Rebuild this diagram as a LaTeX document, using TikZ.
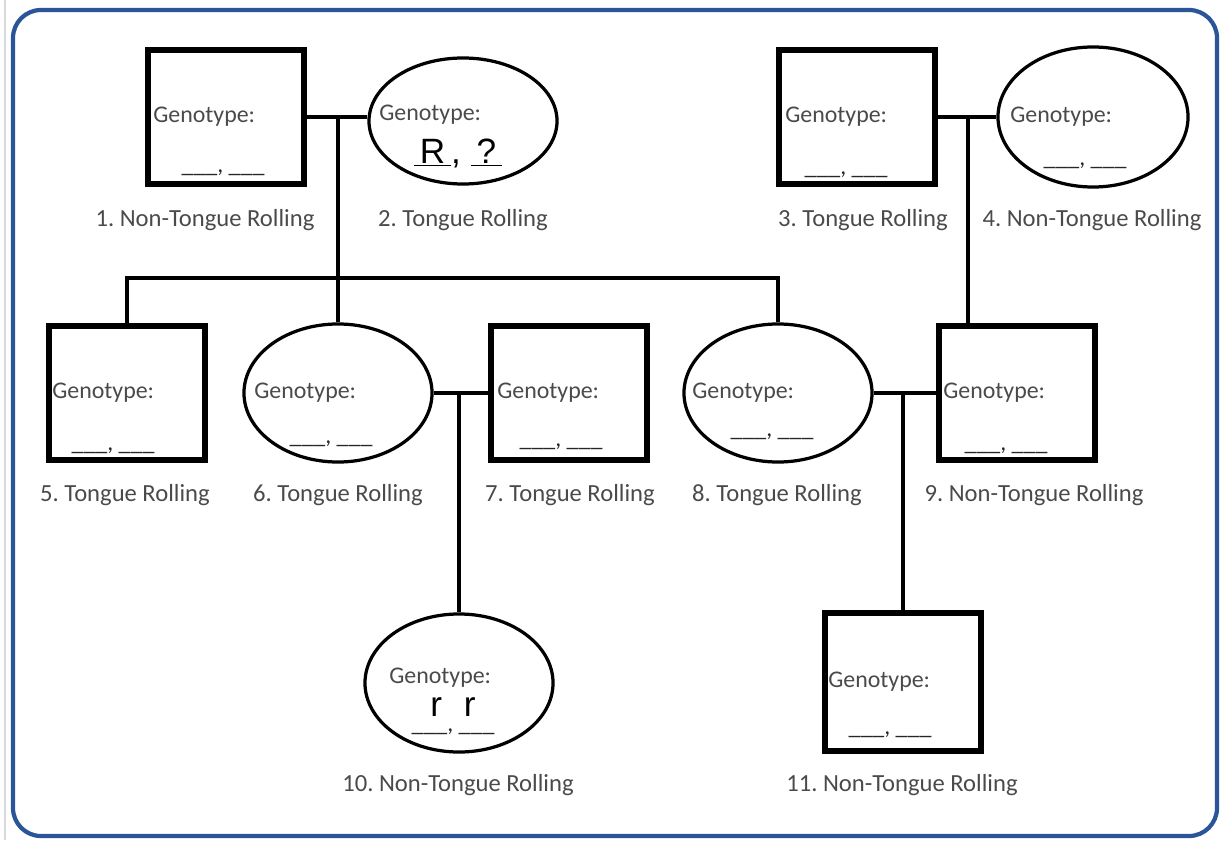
\documentclass[tikz,border=0pt]{standalone}
\usepackage{fontspec}
\setmainfont{Carlito}
\newfontfamily\allelefont{Liberation Sans}
\usetikzlibrary{shapes.geometric}

\definecolor{framecolor}{HTML}{2A5598}
\definecolor{textgray}{HTML}{4A4A4A}
\newcommand{\blanks}{\_\_\_, \_\_\_}

\begin{document}
\begin{tikzpicture}[x=0.025cm, y=-0.025cm]
        \tikzstyle{male}=[draw=black, line width=4pt, minimum width=3.9cm, minimum height=3.35cm, inner sep=0pt]
        \tikzstyle{female}=[draw=black, ellipse, line width=2.3pt, minimum width=4.7cm, minimum height=3.45cm, inner sep=0pt]
        \tikzstyle{link}=[line width=2.8pt]
        \tikzstyle{geno}=[anchor=west, inner sep=0pt, text=textgray, font=\fontsize{17}{20}\selectfont]
        \tikzstyle{blank}=[anchor=base, inner sep=0pt, text=black!85, font=\fontsize{17}{20}\selectfont]
        \tikzstyle{allele}=[anchor=base, inner sep=0pt, font=\allelefont\fontsize{25}{28}\selectfont]
        \tikzstyle{caption}=[inner sep=0pt, text=textgray, font=\frenchspacing\fontsize{17.5}{20}\selectfont]

        \useasboundingbox (0,0) rectangle (1220,840);
        \draw[gray!30, line width=1pt] (5,0) -- (5,840);
        \draw[framecolor, line width=3pt, rounded corners=0.7cm] (13,10) rectangle (1217,836);

        % parents
        \node (p1) at (226,117)[male]{};
        \node (p2) at (463,121)[female, minimum height=3.15cm]{};
        \node (p3) at (857,117)[male]{};
        \node (p4) at (1093,117)[female, minimum width=4.75cm, minimum height=3.5cm]{};

        % children
        \node (p5) at (127,393)[male]{};
        \node (p6) at (338,393)[female]{};
        \node (p7) at (569,393)[male]{};
        \node (p8) at (778,393)[female]{};
        \node (p9) at (1017,393)[male]{};

        % grandchildren
        \node (p10) at (459,683)[female]{};
        \node (p11) at (903,682)[male, minimum height=3.45cm]{};

        \coordinate (c12) at (338,117);
        \coordinate (c34) at (968,117);
        \coordinate (c67) at (459,393);
        \coordinate (c89) at (903,393);
        \coordinate (s5) at (127,278);
        \coordinate (s8) at (778,278);

        \draw[link] (p1.east) -- (p1.east -| p2.west);
        \draw[link] (c12) -- (p6.north);
        \draw[link] (p5.north) -- (s5) -- (s8) -- (p8.north);
        \draw[link] (p3.east) -- (p4.west);
        \draw[link] (c34) -- (c34 |- p9.north);
        \draw[link] (p6.east) -- (p7.west);
        \draw[link] (c67) -- (p10.north);
        \draw[link] (p8.east) -- (p9.west);
        \draw[link] (c89) -- (p11.north);

        % genotype text
        \node (g1) at (153,117)[geno]{Genotype:};
        \node (g2) at (379,115)[geno]{Genotype:};
        \node (g3) at (785,117)[geno]{Genotype:};
        \node (g4) at (1010,117)[geno]{Genotype:};
        \node (g5) at (52,393)[geno]{Genotype:};
        \node (g6) at (254,393)[geno]{Genotype:};
        \node (g7) at (497,393)[geno]{Genotype:};
        \node (g8) at (692,393)[geno]{Genotype:};
        \node (g9) at (943,393)[geno]{Genotype:};
        \node (g10) at (389,678)[geno]{Genotype:};
        \node (g11) at (828,682)[geno]{Genotype:};

        % blanks
        \node (b1) at (223,173)[blank]{\blanks};
        \node (b2) at (458,163)[allele]{\underline{\,R\,}, \underline{\,?\,}};
        \node (b3) at (846,174)[blank]{\blanks};
        \node (b4) at (1085,165)[blank]{\blanks};
        \node (b5) at (113,450)[blank]{\blanks};
        \node (b6) at (331,443)[blank]{\blanks};
        \node (b7) at (561,446)[blank]{\blanks};
        \node (b8) at (772,436)[blank]{\blanks};
        \node (b9) at (1006,450)[blank]{\blanks};
        \node (a10) at (453,716)[allele]{r\hspace{0.55cm}r};
        \node (b10) at (453,731)[blank]{\blanks};
        \node (b11) at (890,734)[blank]{\blanks};

        % captions
        \node (l1) at (205,220)[caption]{1. Non-Tongue Rolling};
        \node (l2) at (463,220)[caption]{2. Tongue Rolling};
        \node (l3) at (863,220)[caption]{3. Tongue Rolling};
        \node (l4) at (1092,220)[caption]{4. Non-Tongue Rolling};
        \node (l5) at (125,495)[caption]{5. Tongue Rolling};
        \node (l6) at (338,495)[caption]{6. Tongue Rolling};
        \node (l7) at (570,495)[caption]{7. Tongue Rolling};
        \node (l8) at (777,495)[caption]{8. Tongue Rolling};
        \node (l9) at (1034,495)[caption]{9. Non-Tongue Rolling};
        \node (l10) at (458,785)[caption]{10. Non-Tongue Rolling};
        \node (l11) at (902,785)[caption]{11. Non-Tongue Rolling};
      \end{tikzpicture}
\end{document}
